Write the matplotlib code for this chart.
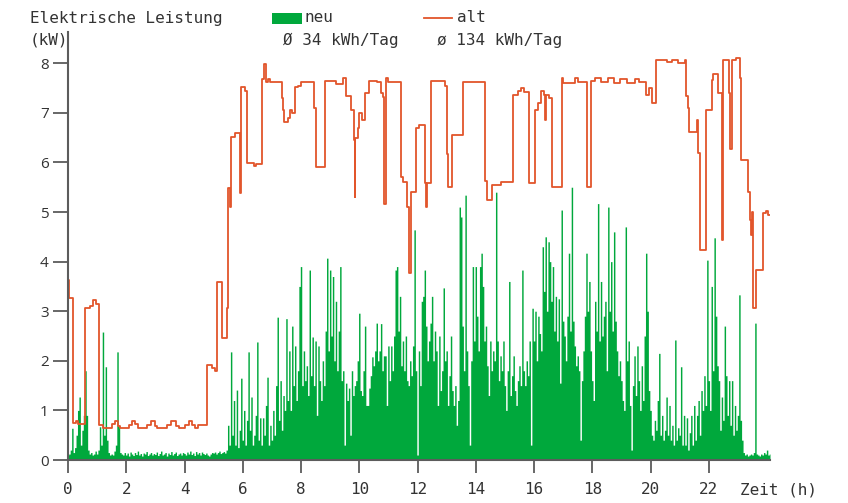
import numpy as np
import matplotlib
matplotlib.use("Agg")
import matplotlib.pyplot as plt
from matplotlib.patches import Rectangle
from matplotlib.lines import Line2D

# ---------------- data ----------------
# neu: power in kW, one sample every 3 minutes (20 per hour), 0 .. 24.1 h
neu_step_h = 0.05
neu_kw = [
    0.10, 0.12, 0.20, 0.64, 0.15, 0.25, 0.50, 1.00, 1.27, 0.30, 0.60, 0.90, 1.80, 0.90, 0.20, 0.12, 0.15, 0.10, 0.12, 0.18,
    0.12, 0.20, 0.67, 0.30, 2.58, 0.50, 1.88, 0.40, 0.15, 0.10, 0.12, 0.10, 0.18, 0.30, 2.18, 0.70, 0.15, 0.12, 0.10, 0.15,
    0.10, 0.14, 0.08, 0.16, 0.12, 0.09, 0.15, 0.11, 0.18, 0.10, 0.13, 0.08, 0.14, 0.12, 0.17, 0.09, 0.12, 0.15, 0.10, 0.13,
    0.11, 0.16, 0.09, 0.13, 0.18, 0.10, 0.12, 0.15, 0.08, 0.14, 0.11, 0.17, 0.10, 0.13, 0.16, 0.09, 0.12, 0.14, 0.10, 0.15,
    0.13, 0.10, 0.16, 0.12, 0.18, 0.11, 0.14, 0.09, 0.17, 0.12, 0.15, 0.10, 0.16, 0.13, 0.11, 0.14, 0.10, 0.08, 0.12, 0.15,
    0.14, 0.16, 0.12, 0.15, 0.18, 0.13, 0.15, 0.17, 0.14, 0.20, 0.70, 0.30, 2.18, 0.50, 1.20, 0.30, 1.41, 0.25, 0.60, 1.65,
    0.40, 1.00, 0.30, 0.80, 2.18, 0.60, 1.27, 0.30, 0.50, 0.90, 2.38, 0.40, 0.85, 0.30, 0.85, 0.50, 1.10, 1.67, 0.30, 0.70,
    0.40, 1.00, 0.50, 1.50, 2.88, 0.80, 1.60, 0.60, 1.30, 1.00, 2.85, 1.20, 2.20, 1.00, 2.70, 1.50, 2.30, 1.20, 1.80, 3.50,
    3.90, 1.50, 2.20, 1.60, 1.90, 1.30, 3.83, 1.70, 2.48, 1.50, 2.40, 0.90, 2.30, 1.60, 1.20, 2.00, 1.50, 2.60, 4.07, 2.20,
    3.83, 2.50, 3.70, 2.00, 3.20, 1.80, 2.60, 3.90, 1.60, 1.80, 0.30, 1.55, 1.20, 1.45, 0.50, 1.80, 1.30, 1.50, 1.60, 2.00,
    2.96, 1.40, 1.30, 1.80, 2.70, 1.10, 1.10, 1.45, 1.70, 2.08, 1.90, 2.20, 2.76, 2.00, 2.20, 2.75, 1.80, 2.10, 2.10, 1.10,
    2.30, 1.60, 2.30, 1.80, 2.50, 3.83, 3.90, 2.60, 3.30, 1.90, 2.40, 1.80, 2.50, 1.60, 1.50, 2.00, 1.70, 2.30, 4.64, 1.80,
    0.10, 2.20, 1.50, 3.20, 3.30, 3.83, 2.70, 2.00, 2.40, 2.76, 3.30, 2.00, 2.60, 2.20, 1.10, 2.50, 1.40, 1.80, 3.47, 2.00,
    2.20, 1.10, 1.70, 2.50, 1.40, 1.10, 1.50, 0.70, 1.20, 5.10, 4.90, 2.70, 1.80, 5.34, 2.20, 1.50, 0.30, 2.00, 3.90, 2.40,
    3.90, 2.90, 2.20, 3.90, 4.17, 3.50, 2.40, 2.70, 1.90, 1.30, 2.40, 1.80, 2.20, 2.00, 5.40, 2.40, 1.60, 2.10, 1.80, 2.40,
    1.50, 1.00, 1.80, 3.60, 1.30, 1.70, 2.10, 1.40, 1.10, 1.60, 1.90, 1.50, 3.83, 1.80, 1.50, 2.00, 1.70, 2.40, 0.30, 3.06,
    2.40, 3.00, 2.00, 2.90, 2.55, 2.20, 4.30, 3.40, 4.50, 3.00, 4.40, 4.00, 3.20, 3.90, 2.60, 3.30, 2.40, 3.25, 1.55, 5.04,
    2.80, 2.50, 2.00, 2.90, 4.17, 2.60, 5.50, 2.80, 2.30, 1.90, 2.10, 1.80, 0.40, 1.60, 2.20, 2.90, 4.17, 3.00, 3.60, 2.20,
    1.60, 1.20, 3.20, 2.60, 5.17, 2.40, 3.60, 2.50, 2.90, 3.20, 1.80, 5.10, 3.00, 4.00, 2.60, 4.60, 2.80, 2.20, 1.70, 2.00,
    1.60, 1.20, 1.00, 4.70, 2.00, 2.40, 1.10, 0.20, 1.50, 2.10, 1.30, 2.30, 1.60, 1.00, 1.90, 1.20, 2.50, 4.17, 3.00, 1.40,
    1.00, 0.50, 0.40, 0.80, 0.60, 1.20, 2.15, 0.50, 0.90, 0.40, 0.60, 1.27, 0.50, 1.10, 0.40, 0.70, 0.30, 2.42, 0.40, 0.65,
    0.50, 1.88, 0.30, 0.90, 0.30, 0.85, 0.20, 0.55, 0.90, 0.30, 1.10, 0.40, 0.90, 1.20, 0.50, 1.40, 1.00, 1.70, 1.10, 4.03,
    1.60, 1.00, 3.50, 1.80, 4.48, 2.90, 1.90, 1.60, 0.60, 1.27, 0.80, 2.70, 1.70, 0.90, 1.60, 0.70, 1.60, 0.50, 1.10, 0.60,
    0.90, 3.33, 0.80, 0.40, 0.15, 0.10, 0.12, 0.08, 0.10, 0.12, 0.10, 0.15, 2.76, 0.12, 0.10, 0.08, 0.12, 0.10, 0.15, 0.12,
    0.20, 0.10, 0.12,
]

# alt: step line, breakpoints (hour, kW)
alt_t = [
    0.00, 0.03, 0.17, 0.28, 0.35, 0.57, 0.75, 0.85, 0.95, 1.08,
    1.20, 1.50, 1.60, 1.70, 1.80, 2.10, 2.20, 2.30, 2.40, 2.70,
    2.85, 2.98, 3.05, 3.40, 3.55, 3.70, 3.80, 4.00, 4.15, 4.25,
    4.35, 4.45, 4.78, 4.95, 5.05, 5.12, 5.30, 5.45, 5.50, 5.55,
    5.58, 5.72, 5.90, 5.95, 6.08, 6.15, 6.40, 6.45, 6.67, 6.73,
    6.80, 6.88, 6.93, 7.33, 7.37, 7.43, 7.55, 7.62, 7.70, 7.78,
    7.90, 8.00, 8.45, 8.52, 8.84, 9.20, 9.45, 9.53, 9.70, 9.82,
    9.84, 9.87, 9.95, 10.00, 10.08, 10.20, 10.33, 10.60, 10.75, 10.82,
    10.86, 10.92, 11.00, 11.43, 11.50, 11.65, 11.72, 11.78, 11.95, 12.05,
    12.24, 12.28, 12.31, 12.47, 12.95, 13.00, 13.03, 13.18, 13.57, 14.30,
    14.33, 14.38, 14.55, 14.85, 15.27, 15.45, 15.55, 15.65, 15.83, 16.02,
    16.15, 16.25, 16.33, 16.37, 16.42, 16.50, 16.62, 16.95, 17.00, 17.40,
    17.52, 17.83, 17.95, 18.10, 18.30, 18.55, 18.75, 18.95, 19.20, 19.45,
    19.60, 19.85, 19.95, 20.05, 20.18, 20.55, 20.75, 20.95, 21.17, 21.20,
    21.28, 21.33, 21.60, 21.64, 21.70, 21.90, 22.10, 22.16, 22.30, 22.45,
    22.50, 22.68, 22.72, 22.80, 22.92, 23.08, 23.12, 23.35, 23.42, 23.46,
    23.49, 23.53, 23.62, 23.85, 23.97, 24.03, 24.09,
]
alt_kw = [
    3.63, 3.27, 0.75, 0.78, 0.72, 3.06, 3.10, 3.22, 3.15, 0.70,
    0.64, 0.72, 0.78, 0.68, 0.64, 0.70, 0.78, 0.72, 0.64, 0.70,
    0.78, 0.68, 0.64, 0.70, 0.78, 0.68, 0.64, 0.70, 0.78, 0.70,
    0.64, 0.70, 1.91, 1.85, 1.80, 3.59, 2.46, 3.06, 5.48, 5.10,
    6.51, 6.60, 5.38, 7.52, 7.45, 5.98, 5.92, 5.97, 7.68, 7.98,
    7.62, 7.68, 7.62, 7.30, 7.05, 6.82, 6.90, 7.05, 7.00, 7.52,
    7.55, 7.62, 7.10, 5.91, 7.65, 7.58, 7.70, 7.33, 7.05, 6.45,
    5.30, 6.50, 6.70, 7.00, 6.85, 7.40, 7.65, 7.62, 7.40, 7.32,
    5.17, 7.70, 7.62, 5.70, 5.60, 5.10, 3.77, 5.40, 6.70, 6.75,
    5.58, 5.10, 5.58, 7.65, 7.55, 6.18, 5.50, 6.55, 7.62, 7.40,
    5.62, 5.24, 5.55, 5.60, 7.36, 7.45, 7.50, 7.42, 5.58, 7.05,
    7.20, 7.45, 7.35, 6.85, 7.35, 7.30, 5.50, 7.70, 7.60, 7.70,
    7.62, 5.50, 7.65, 7.70, 7.62, 7.70, 7.60, 7.68, 7.60, 7.68,
    7.62, 7.36, 7.50, 7.20, 8.06, 8.02, 8.06, 8.00, 8.06, 7.33,
    7.10, 6.62, 6.85, 6.20, 4.23, 7.05, 7.66, 7.78, 7.40, 4.44,
    8.06, 7.40, 6.28, 8.06, 8.10, 7.70, 6.05, 5.40, 4.84, 4.53,
    5.00, 3.06, 3.83, 4.98, 5.02, 4.93, 4.93,
]

x_ticks = list(range(0, 23, 2))
y_ticks = list(range(0, 9))

green = "#00a83c"
orange = "#e2552b"
axis_col = "#5c5c5c"
text_col = "#333333"
mono = "DejaVu Sans Mono"

# ---------------- plot ----------------
W, H = 848, 503
fig = plt.figure(figsize=(W / 100, H / 100), dpi=100)
ax = fig.add_axes([68 / W, 43 / H, 702 / W, 428 / H])

t_neu = np.arange(len(neu_kw)) * neu_step_h
ax.fill_between(t_neu, neu_kw, 0, step="mid", color=green, lw=0)
ax.step(alt_t, alt_kw, where="post", color=orange, lw=1.3)

ax.set_xlim(0, 24.1)
ax.set_ylim(0, 8.63)
for s in ["top", "right"]:
    ax.spines[s].set_visible(False)
for s in ["left", "bottom"]:
    ax.spines[s].set_color(axis_col)
    ax.spines[s].set_linewidth(1.5)

ax.set_xticks(x_ticks)
ax.set_yticks(y_ticks)
ax.tick_params(axis="both", direction="out", color=axis_col, width=1.3, labelcolor=text_col)
ax.tick_params(axis="x", length=9.5, pad=6)
ax.tick_params(axis="y", length=10.5, pad=3.5)
for lbl in ax.get_xticklabels():
    lbl.set_fontfamily(mono)
    lbl.set_fontsize(11.5)
for lbl in ax.get_yticklabels():
    lbl.set_fontfamily("Open Sans")
    lbl.set_fontsize(11)

# axis titles
fig.text(30 / W, 1 - 18 / H, "Elektrische Leistung", family=mono, size=11.5, color=text_col, va="center")
fig.text(30 / W, 1 - 40 / H, "(kW)", family=mono, size=11.5, color=text_col, va="center")
fig.text(740 / W, 1 - 490 / H, "Zeit (h)", family=mono, size=11.5, color=text_col, va="center")

# legend
fig.add_artist(Rectangle((272 / W, 1 - 24 / H), 30 / W, 11 / H, transform=fig.transFigure,
                         facecolor=green, edgecolor="none"))
fig.text(305 / W, 1 - 18 / H, "neu", family=mono, size=11.5, color=text_col, va="center")
fig.text(283 / W, 1 - 40 / H, "Ø 34 kWh/Tag", family=mono, size=11.5, color=text_col, va="center")
fig.add_artist(Line2D([424 / W, 452 / W], [1 - 18 / H, 1 - 18 / H], transform=fig.transFigure,
                      color=orange, lw=1.3))
fig.text(457 / W, 1 - 18 / H, "alt", family=mono, size=11.5, color=text_col, va="center")
fig.text(437 / W, 1 - 40 / H, "ø 134 kWh/Tag", family=mono, size=11.5, color=text_col, va="center")

fig.savefig("out.png", dpi=100, facecolor="white")
